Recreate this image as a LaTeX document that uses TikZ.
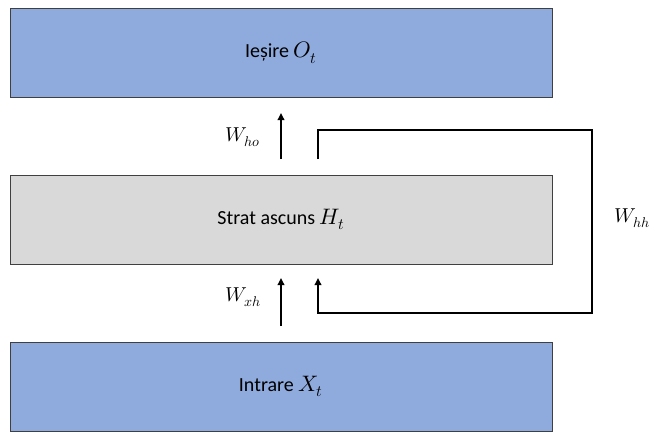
\documentclass[tikz,border=0pt]{standalone}
\usepackage{fontspec}
\usepackage{unicode-math}
\setmainfont{Carlito}
\setmathfont{Latin Modern Math}[Scale=1.12]
\usetikzlibrary{arrows.meta}
\definecolor{layerblue}{HTML}{8FAADC}
\definecolor{layergray}{HTML}{D9D9D9}
\definecolor{edgegray}{HTML}{404040}
\begin{document}
\begin{tikzpicture}[x=1pt,y=-1pt,
  layer/.style={draw=edgegray,line width=0.9pt,minimum width=542pt,minimum height=89pt,
    inner sep=0pt,font=\fontsize{20}{24}\selectfont},
  conn/.style={line width=1.8pt,-{Triangle[length=7pt,width=6.5pt]}},
  wlabel/.style={font=\fontsize{18}{22}\selectfont}]
\useasboundingbox (0,0) rectangle (653,432);
% the three layers of the recurrent network
\node[layer,fill=layerblue] (out) at (281,52.5) {Ieșire $O_t$};
\node[layer,fill=layergray] (hid) at (281,219.5) {Strat ascuns $H_t$};
\node[layer,fill=layerblue] (in) at (281,386.5) {Intrare $X_t$};
% connector end points
\coordinate (hoS) at (281,159);
\coordinate (hoE) at (281,113);
\coordinate (xhS) at (281,326);
\coordinate (xhE) at (281,278);
\coordinate (rS) at (318,159);
\coordinate (rE) at (318,278);
\coordinate (rTop) at (592,130);
\coordinate (rBot) at (592,313);
% forward connections
\draw[conn] (hoS) -- (hoE);
\draw[conn] (xhS) -- (xhE);
% recurrent connection of the hidden layer
\draw[conn] (rS) |- (rTop) -- (rBot) -| (rE);
% weight labels
\node[wlabel] (who) at (243,137) {$W_{ho}$};
\node[wlabel] (wxh) at (243,297) {$W_{xh}$};
\node[wlabel] (whh) at (632,218) {$W_{hh}$};
\end{tikzpicture}
\end{document}
